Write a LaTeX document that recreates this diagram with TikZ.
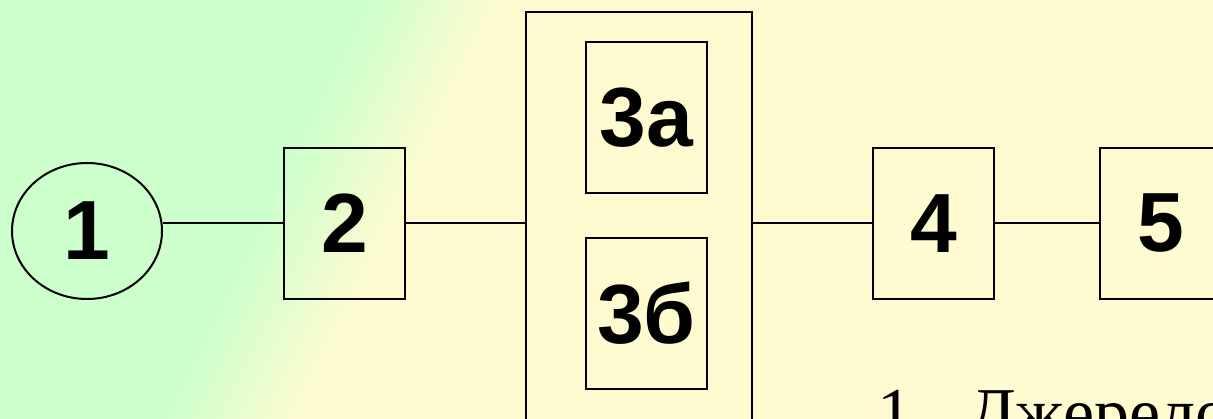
\documentclass[tikz,border=0pt]{standalone}
\usepackage{fontspec}
\setmainfont{Liberation Serif}
\newfontfamily\labelfont{Liberation Sans}
\usetikzlibrary{shapes.geometric}
\definecolor{bggreen}{RGB}{204,255,204}
\definecolor{bgyellow}{RGB}{255,251,208}
\begin{document}
\begin{tikzpicture}[x=1pt,y=-1pt,
  lbl/.style={font=\labelfont\bfseries\fontsize{84}{84}\selectfont},
  blk/.style={draw=black,line width=2pt,minimum width=121pt,minimum height=151pt,inner sep=0pt,lbl},
  conn/.style={draw=black,line width=2pt}]
\useasboundingbox (0,0) rectangle (1213,419);
\fill[bgyellow] (0,0) rectangle (1213,419);
\begin{scope}
  \clip (0,0) rectangle (1213,419);
  \begin{scope}[transform canvas={rotate around={-26:(334,210)}}]
    \fill[bggreen] (-900,-900) rectangle (270,1300);
    \shade[left color=bggreen,right color=bgyellow] (270,-900) rectangle (398,1300);
  \end{scope}
\end{scope}
\node[draw=black,ellipse,line width=2pt,minimum width=150pt,minimum height=136pt,inner sep=0pt,lbl] (n1) at (87,231) {1};
\node[blk] (n2) at (344.5,223.5) {2};
\node[draw=black,line width=2pt,minimum width=226pt,minimum height=422pt,inner sep=0pt] (n3) at (639,223) {};
\node[blk] (n3a) at (646.5,117.5) {3а};
\node[blk] (n3b) at (646.5,313.5) {3б};
\node[blk] (n4) at (933.5,223.5) {4};
\node[blk] (n5) at (1160.5,223.5) {5};
\node[anchor=base west,inner sep=0pt,font=\fontsize{70}{70}\selectfont] (t1) at (877,436) {\makebox[91pt][l]{1.}Джерело};
\draw[conn] (n2.west -| n1.east) -- (n2.west);
\draw[conn] (n2.east) -- (n2.east -| n3.west);
\draw[conn] (n3.east |- n4.west) -- (n4.west);
\draw[conn] (n4.east) -- (n5.west);
\end{tikzpicture}
\end{document}
